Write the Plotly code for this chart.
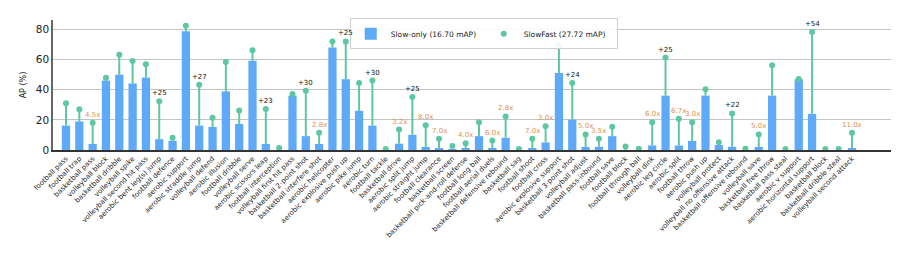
import plotly.graph_objects as go

categories = [
    "football pass", "football trap", "basketball pass", "volleyball block", "basketball dribble",
    "volleyball spike", "volleyball second hit pass", "aerobic bent leg(s) jump", "football defence",
    "aerobic support", "aerobic straddle jump", "volleyball defend", "aerobic illusion", "football dribble",
    "volleyball serve", "aerobic scissors leap", "football interception", "volleyball first hit pass",
    "basketball 2-point shot", "basketball interfere shot", "aerobic helicopter", "aerobic explosive push up",
    "aerobic pike jump", "aerobic turn", "football tackle", "basketball drive", "aerobic split jump",
    "aerobic straight jump", "football clearance", "basketball screen", "basketball pick-and-roll defense",
    "football long ball", "football aerial duels", "basketball defensive rebound", "basketball sag",
    "football shoot", "football cross", "aerobic explosive support", "basketball 3-point shot",
    "volleyball adjust", "basketball pass-inbound", "football save", "football block", "football through ball",
    "volleyball dink", "aerobic leg circle", "aerobic split", "football throw", "aerobic push up",
    "volleyball protect", "volleyball no offensive attack", "basketball offensive rebound", "volleyball save",
    "basketball free throw", "basketball pass steal", "aerobic v support", "aerobic horizontal support",
    "basketball block", "basketball dribble steal", "volleyball second attack",
]

slow_only = [
    16.2, 19.0, 4.0, 46.1, 50.0, 44.2, 48.1, 7.2, 6.1, 78.9,
    16.2, 15.3, 38.9, 17.3, 59.2, 4.0, 0.0, 36.1, 9.2, 4.0,
    68.0, 47.0, 26.0, 16.2, 0.0, 4.2, 10.1, 2.0, 1.0, 0.6,
    1.1, 9.2, 1.0, 8.1, 0.0, 1.0, 5.0, 51.1, 20.1, 2.0,
    2.1, 9.2, 0.0, 0.0, 3.0, 36.1, 3.0, 6.1, 36.1, 3.3,
    2.2, 0.0, 2.0, 36.1, 0.0, 47.0, 24.0, 0.0, 0.0, 1.0,
]

slowfast = [
    31.0, 27.1, 18.1, 47.9, 63.2, 59.0, 57.0, 32.3, 8.1, 82.4,
    43.3, 21.4, 58.4, 26.2, 66.2, 27.3, 1.3, 37.2, 39.3, 11.4,
    72.1, 72.1, 44.4, 46.1, 0.7, 13.6, 35.2, 16.4, 7.4, 2.6,
    4.4, 18.4, 6.3, 22.3, 0.7, 7.4, 15.7, 69.3, 44.4, 10.3,
    7.4, 15.5, 2.4, 0.9, 18.4, 61.4, 20.8, 18.4, 40.4, 5.2,
    24.3, 0.9, 10.3, 56.2, 0.7, 47.2, 78.3, 0.7, 0.7, 11.4,
]

gain_labels = [
    "", "", "4.5x", "", "", "", "", "+25", "", "",
    "+27", "", "", "", "", "+23", "", "", "+30", "2.8x",
    "", "+25", "", "+30", "", "3.2x", "+25", "8.0x", "7.0x", "",
    "4.0x", "", "6.0x", "2.8x", "", "7.0x", "3.0x", "", "+24", "5.0x",
    "3.5x", "", "", "", "6.0x", "+25", "6.7x", "3.0x", "", "",
    "+22", "", "5.0x", "", "", "", "+54", "", "", "11.0x",
]

legend_names = ["Slow-only (16.70 mAP)", "SlowFast (27.72 mAP)"]

BLUE = "#5eaaf8"
GREEN = "#5dc89f"
ORANGE = "#e0914f"

x_idx = list(range(len(categories)))

fig = go.Figure()

fig.add_trace(go.Bar(
    x=x_idx, y=slow_only, width=0.62, name=legend_names[0],
    marker=dict(color=BLUE, line=dict(width=0)),
))

stem_x, stem_y = [], []
for i, (a, b) in enumerate(zip(slow_only, slowfast)):
    stem_x += [i, i, None]
    stem_y += [a, b, None]
fig.add_trace(go.Scatter(
    x=stem_x, y=stem_y, mode="lines", line=dict(color=GREEN, width=2),
    showlegend=False, hoverinfo="skip",
))
fig.add_trace(go.Scatter(
    x=x_idx, y=slowfast, mode="markers", name=legend_names[1],
    marker=dict(color=GREEN, size=6),
))

for i, lab in enumerate(gain_labels):
    if not lab:
        continue
    color = "#111111" if lab.startswith("+") else ORANGE
    fig.add_annotation(
        x=i, y=slowfast[i], text=lab, showarrow=False, yshift=8,
        font=dict(size=7, color=color, family="DejaVu Sans"),
    )

fig.update_layout(
    width=899, height=262,
    margin=dict(l=45, r=11, t=11, b=120),
    plot_bgcolor="white", paper_bgcolor="white",
    font=dict(family="DejaVu Sans", color="#222222"),
    legend=dict(
        orientation="h", x=0.352, y=1.005, xanchor="left", yanchor="top",
        bordercolor="#d0d0d0", borderwidth=1, bgcolor="rgba(255,255,255,0.9)",
        font=dict(size=7.5), itemwidth=30, tracegroupgap=0,
        entrywidth=88, entrywidthmode="pixels",
    ),
    showlegend=True,
)

fig.update_xaxes(
    range=[-0.975, 62.3], tickmode="array", tickvals=x_idx, ticktext=categories,
    tickangle=-45, tickfont=dict(size=7), showgrid=False, zeroline=False,
    showline=True, linecolor="#333333", linewidth=1.5, ticks="", ticklen=0,
)
fig.update_yaxes(
    range=[0, 86.3], tickvals=[0, 20, 40, 60, 80], tickfont=dict(size=10.5),
    showgrid=True, gridcolor="#c4c4c4", gridwidth=1.2, zeroline=False,
    showline=True, linecolor="#666666", linewidth=1.5,
    title=dict(text="AP (%)", font=dict(size=8), standoff=8),
)

fig.write_html("out.html")
